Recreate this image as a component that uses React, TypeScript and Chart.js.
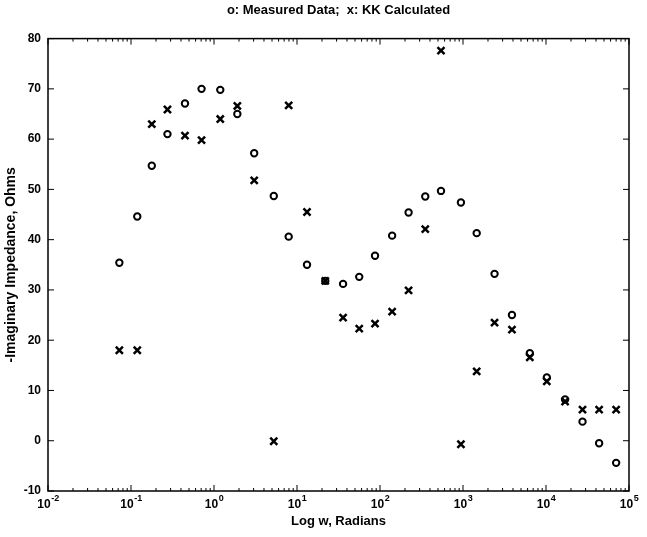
import React, { useEffect, useRef } from 'react';
import { Chart, registerables } from 'chart.js';

Chart.register(...registerables);

// Angular frequency (rad/s) shared by both series
const omega = [
  0.0724, 0.119, 0.178, 0.275, 0.447, 0.708, 1.19, 1.91, 3.05, 5.25,
  7.94, 13.2, 21.9, 35.9, 56.2, 87.1, 140, 221, 351, 543,
  944, 1462, 2399, 3890, 6383, 10230, 16980, 27540, 43650, 69980,
];

// -Imaginary impedance, Ohms (o: measured)
const measured = [
  35.4, 44.6, 54.7, 61.0, 67.1, 70.0, 69.8, 65.0, 57.2, 48.7,
  40.6, 35.0, 31.8, 31.2, 32.6, 36.8, 40.8, 45.4, 48.6, 49.7,
  47.4, 41.3, 33.2, 25.0, 17.4, 12.6, 8.2, 3.8, -0.5, -4.4,
];

// -Imaginary impedance, Ohms (x: KK calculated)
const kkCalculated = [
  18.0, 18.0, 63.0, 65.9, 60.7, 59.8, 64.0, 66.6, 51.8, -0.1,
  66.7, 45.5, 31.8, 24.5, 22.3, 23.3, 25.7, 29.9, 42.1, 77.6,
  -0.7, 13.8, 23.5, 22.1, 16.6, 11.8, 7.8, 6.2, 6.2, 6.2,
];

const xTickValues = [1e-2, 1e-1, 1, 10, 100, 1e3, 1e4, 1e5];
const xTickBase = '10';
const xTickExponents = ['-2', '-1', '0', '1', '2', '3', '4', '5'];
const yTickValues = [-10, 0, 10, 20, 30, 40, 50, 60, 70, 80];

const titleText = 'o: Measured Data;  x: KK Calculated';
const xTitle = 'Log w, Radians';
const yTitle = '-Imaginary Impedance, Ohms';

const FONT = 'Liberation Sans, Arial, sans-serif';

const boxPlugin = {
  id: 'matlabBox',
  afterDatasetsDraw(chart: any) {
    const { ctx, chartArea: a, scales } = chart;
    const xs = scales.x;
    const ys = scales.y;
    ctx.save();
    ctx.strokeStyle = '#000';
    ctx.lineWidth = 1.5;
    ctx.strokeRect(a.left, a.top, a.right - a.left, a.bottom - a.top);
    ctx.lineWidth = 1;
    ctx.beginPath();
    const minE = Math.round(Math.log10(xTickValues[0]));
    const maxE = Math.round(Math.log10(xTickValues[xTickValues.length - 1]));
    for (let e = minE; e <= maxE; e++) {
      for (let k = 1; k <= 9; k++) {
        if (e === maxE && k > 1) break;
        const px = xs.getPixelForValue(k * Math.pow(10, e));
        const len = k === 1 ? 6 : 3;
        ctx.moveTo(px, a.bottom);
        ctx.lineTo(px, a.bottom - len);
        ctx.moveTo(px, a.top);
        ctx.lineTo(px, a.top + len);
      }
    }
    yTickValues.forEach((v) => {
      const py = ys.getPixelForValue(v);
      ctx.moveTo(a.left, py);
      ctx.lineTo(a.left + 6, py);
      ctx.moveTo(a.right, py);
      ctx.lineTo(a.right - 6, py);
    });
    ctx.stroke();

    // x tick labels with real superscript exponents
    ctx.fillStyle = '#000';
    ctx.textBaseline = 'alphabetic';
    ctx.textAlign = 'left';
    xTickValues.forEach((v, i) => {
      const px = xs.getPixelForValue(v);
      ctx.font = `bold 12px ${FONT}`;
      const bw = ctx.measureText(xTickBase).width;
      ctx.font = `bold 9px ${FONT}`;
      const ew = ctx.measureText(xTickExponents[i]).width;
      const start = px - (bw + ew) / 2;
      ctx.font = `bold 12px ${FONT}`;
      ctx.fillText(xTickBase, start, a.bottom + 17);
      ctx.font = `bold 9px ${FONT}`;
      ctx.fillText(xTickExponents[i], start + bw + 0.5, a.bottom + 10);
    });
    ctx.restore();
  },
};

export default function App() {
  const canvasRef = useRef<HTMLCanvasElement | null>(null);

  useEffect(() => {
    const canvas = canvasRef.current;
    if (!canvas) return;
    const chart = new Chart(canvas, {
      type: 'scatter',
      data: {
        datasets: [
          {
            label: 'Measured Data',
            data: omega.map((w, i) => ({ x: w, y: measured[i] })),
            pointStyle: 'circle',
            pointRadius: 3.2,
            pointBorderWidth: 2,
            borderColor: '#000',
            backgroundColor: 'rgba(0,0,0,0)',
            showLine: false,
          },
          {
            label: 'KK Calculated',
            data: omega.map((w, i) => ({ x: w, y: kkCalculated[i] })),
            pointStyle: 'crossRot',
            pointRadius: 5,
            pointBorderWidth: 2.5,
            borderColor: '#000',
            backgroundColor: '#000',
            showLine: false,
          },
        ],
      },
      options: {
        animation: false,
        responsive: false,
        maintainAspectRatio: false,
        devicePixelRatio: 1,
        layout: { padding: { left: 0, right: 18, top: 0, bottom: 0 } },
        plugins: {
          legend: { display: false },
          tooltip: { enabled: false },
          title: {
            display: true,
            text: titleText,
            color: '#000',
            fullSize: false,
            font: { family: FONT, size: 13, weight: 'bold' },
            padding: { top: 3, bottom: 20 },
          },
        },
        scales: {
          x: {
            type: 'logarithmic',
            min: xTickValues[0],
            max: xTickValues[xTickValues.length - 1],
            afterBuildTicks: (scale: any) => {
              scale.ticks = xTickValues.map((v) => ({ value: v }));
            },
            afterFit: (scale: any) => {
              scale.height = 46;
            },
            ticks: { display: false },
            grid: { display: false, drawTicks: false },
            border: { display: false },
            title: {
              display: true,
              text: xTitle,
              color: '#000',
              font: { family: FONT, size: 13, weight: 'bold' },
              padding: { top: 0, bottom: 8 },
            },
          },
          y: {
            type: 'linear',
            min: -10,
            max: 80,
            afterBuildTicks: (scale: any) => {
              scale.ticks = yTickValues.map((v) => ({ value: v }));
            },
            afterFit: (scale: any) => {
              scale.width = 48;
            },
            ticks: {
              autoSkip: false,
              padding: 7,
              color: '#000',
              font: { family: FONT, size: 12, weight: 'bold' },
            },
            grid: { display: false, drawTicks: false },
            border: { display: false },
            title: {
              display: true,
              text: yTitle,
              color: '#000',
              font: { family: FONT, size: 14, weight: 'bold' },
              padding: { top: 3, bottom: 0 },
            },
          },
        },
      },
      plugins: [boxPlugin],
    } as any);
    return () => chart.destroy();
  }, []);

  return (
    <div style={{ position: 'absolute', left: 0, top: 0, width: 647, height: 537, background: '#fff' }}>
      <canvas ref={canvasRef} width={647} height={537} style={{ display: 'block' }} />
    </div>
  );
}
